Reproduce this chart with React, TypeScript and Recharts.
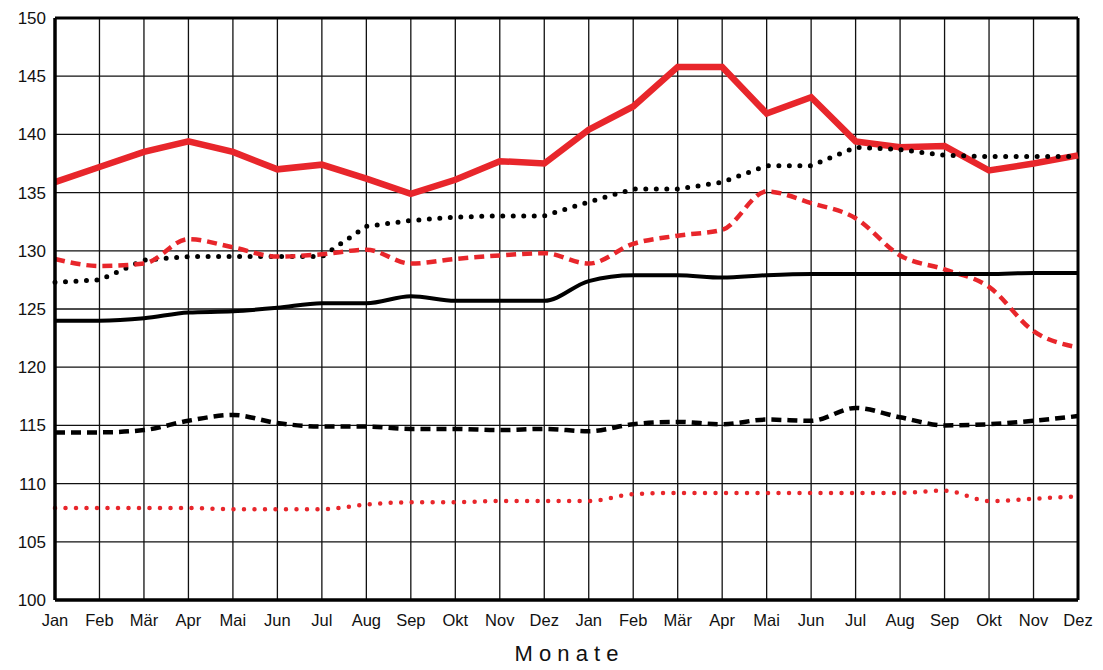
import { LineChart, Line, XAxis, YAxis, CartesianGrid, ReferenceLine } from 'recharts';

// two years of months, Jan..Dez
const months = ['Jan', 'Feb', 'Mär', 'Apr', 'Mai', 'Jun', 'Jul', 'Aug', 'Sep', 'Okt', 'Nov', 'Dez'];
const categories = [...months, ...months];

const yTicks = [100, 105, 110, 115, 120, 125, 130, 135, 140, 145, 150];

// series values
const redSolid = [135.9, 137.2, 138.5, 139.4, 138.5, 137.0, 137.4, 136.2, 134.9, 136.1, 137.7, 137.5,
  140.4, 142.4, 145.8, 145.8, 141.8, 143.2, 139.4, 138.9, 139.0, 136.9, 137.5, 138.2];
const blackDotted = [127.3, 127.5, 129.2, 129.5, 129.5, 129.5, 129.5, 132.1, 132.6, 132.9, 133.0, 133.0,
  134.2, 135.3, 135.3, 135.9, 137.3, 137.3, 138.9, 138.7, 138.2, 138.1, 138.1, 138.1];
const redDashed = [129.3, 128.7, 128.9, 131.0, 130.3, 129.5, 129.7, 130.1, 128.9, 129.3, 129.6, 129.8,
  128.9, 130.6, 131.3, 131.8, 135.1, 134.1, 132.8, 129.6, 128.4, 126.9, 123.1, 121.7];
const blackSolid = [124.0, 124.0, 124.2, 124.7, 124.8, 125.1, 125.5, 125.5, 126.1, 125.7, 125.7, 125.7,
  127.4, 127.9, 127.9, 127.7, 127.9, 128.0, 128.0, 128.0, 128.0, 128.0, 128.1, 128.1];
const blackDashed = [114.4, 114.4, 114.6, 115.4, 115.9, 115.2, 114.9, 114.9, 114.7, 114.7, 114.6, 114.7,
  114.5, 115.1, 115.3, 115.1, 115.5, 115.4, 116.5, 115.7, 115.0, 115.1, 115.4, 115.8];
const redDotted = [107.9, 107.9, 107.9, 107.9, 107.8, 107.8, 107.8, 108.2, 108.4, 108.4, 108.5, 108.5,
  108.5, 109.1, 109.2, 109.2, 109.2, 109.2, 109.2, 109.2, 109.4, 108.5, 108.7, 108.9];

const RED = '#e8262b';
const FONT = '"Liberation Sans", Arial, sans-serif';

export default function App() {
  const chartData = categories.map((m, i) => ({
    idx: i,
    month: m,
    redSolid: redSolid[i],
    blackDotted: blackDotted[i],
    redDashed: redDashed[i],
    blackSolid: blackSolid[i],
    blackDashed: blackDashed[i],
    redDotted: redDotted[i],
  }));
  const xTicks = categories.map((_, i) => i);

  return (
    <div style={{ position: 'absolute', left: 0, top: 0, background: '#fff' }}>
      <LineChart
        width={1103}
        height={670}
        data={chartData}
        margin={{ top: 18, right: 25, bottom: 0, left: 0 }}
        style={{ fontFamily: FONT }}
      >
        <CartesianGrid stroke="#111" strokeWidth={1.3} />
        <XAxis
          dataKey="idx"
          type="number"
          domain={[0, 23]}
          ticks={xTicks}
          interval={0}
          tickFormatter={(v) => categories[v]}
          tickLine={false}
          tickSize={0}
          tickMargin={14}
          height={70}
          axisLine={{ stroke: '#000', strokeWidth: 3.5 }}
          tick={{ fill: '#111', fontSize: 16.5 }}
          label={{ value: 'M o n a t e', position: 'insideBottom', offset: 9, fill: '#111', fontSize: 22 }}
        />
        <YAxis
          type="number"
          domain={[100, 150]}
          ticks={yTicks}
          interval={0}
          width={55}
          tickLine={false}
          tickSize={0}
          tickMargin={9}
          axisLine={{ stroke: '#000', strokeWidth: 3.5 }}
          tick={{ fill: '#111', fontSize: 17 }}
        />
        <ReferenceLine y={150} stroke="#000" strokeWidth={3} />
        <ReferenceLine x={23} stroke="#000" strokeWidth={3} />
        <Line type="linear" dataKey="redSolid" stroke={RED} strokeWidth={6.5} dot={false} isAnimationActive={false} />
        <Line type="linear" dataKey="blackDotted" stroke="#000" strokeWidth={5} strokeDasharray="0 10.5" strokeLinecap="round" dot={false} isAnimationActive={false} />
        <Line type="monotone" dataKey="redDashed" stroke={RED} strokeWidth={4.5} strokeDasharray="10 6" dot={false} isAnimationActive={false} />
        <Line type="monotone" dataKey="blackSolid" stroke="#000" strokeWidth={4} dot={false} isAnimationActive={false} />
        <Line type="monotone" dataKey="blackDashed" stroke="#000" strokeWidth={4.5} strokeDasharray="10 6" dot={false} isAnimationActive={false} />
        <Line type="monotone" dataKey="redDotted" stroke={RED} strokeWidth={4.5} strokeDasharray="0 10.5" strokeLinecap="round" dot={false} isAnimationActive={false} />
      </LineChart>
    </div>
  );
}
